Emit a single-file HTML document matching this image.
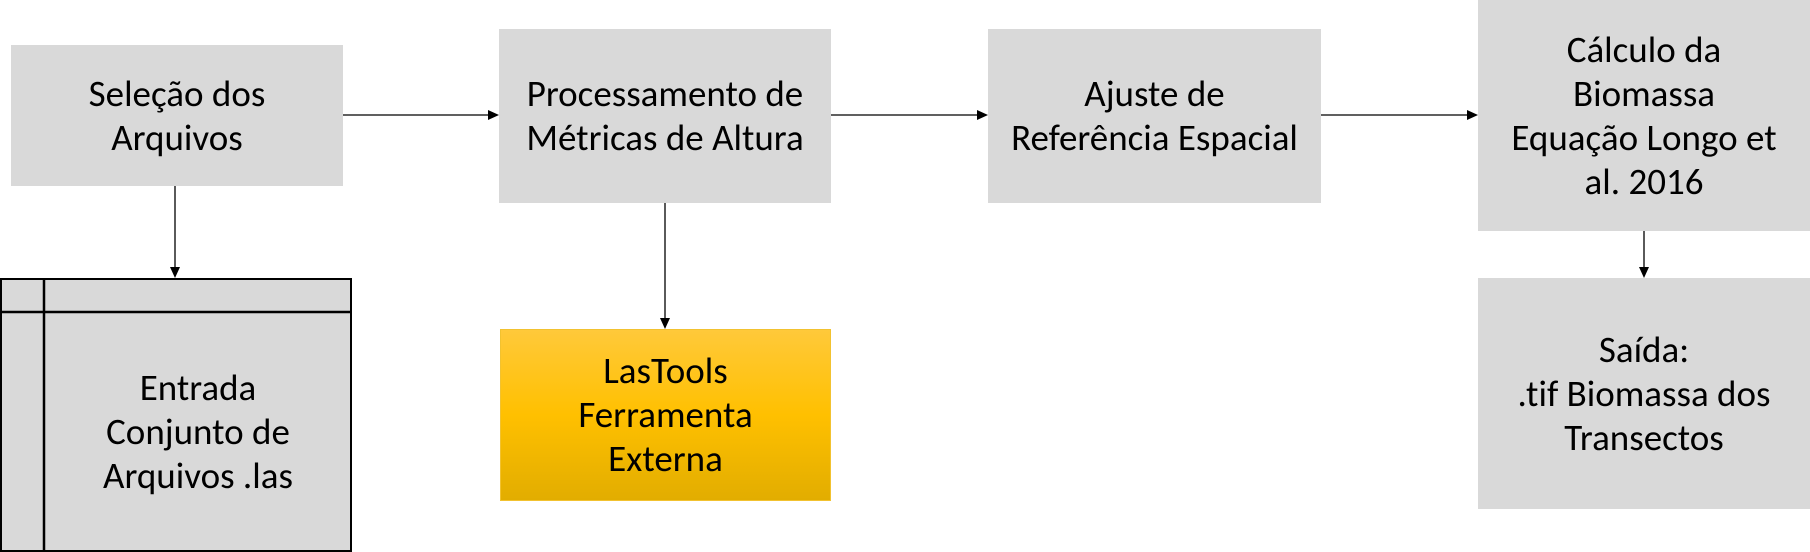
<!DOCTYPE html>
<html><head><meta charset="utf-8"><style>
body{margin:0;width:1810px;height:552px;background:#fff;position:relative;overflow:hidden;font-family:"Carlito","Liberation Sans",sans-serif;font-variant-ligatures:none;}
.b{position:absolute;background:#d9d9d9;display:flex;align-items:center;justify-content:center;text-align:center;font-size:37px;line-height:44px;color:#000;box-sizing:border-box;}
svg{position:absolute;left:0;top:0;}
</style></head><body>
<div class="b" style="left:11px;top:45px;width:332px;height:141px;">Seleção dos<br>Arquivos</div>
<div class="b" style="left:499px;top:29px;width:332px;height:174px;">Processamento de<br>Métricas de Altura</div>
<div class="b" style="left:988px;top:29px;width:333px;height:174px;">Ajuste de<br>Referência Espacial</div>
<div class="b" style="left:1478px;top:0px;width:332px;height:231px;">Cálculo da<br>Biomassa<br>Equação Longo et<br>al. 2016</div>
<div class="b" style="left:1478px;top:278px;width:332px;height:231px;">Saída:<br>.tif Biomassa dos<br>Transectos</div>
<div class="b" style="left:500px;top:329px;width:331px;height:172px;background:linear-gradient(#ffc93a,#ffc000 50%,#e2ad00);border:1.5px solid #f2c230;">LasTools<br>Ferramenta<br>Externa</div>
<div class="b" style="left:0;top:278px;width:352px;height:274px;border:2.5px solid #000;padding-left:44px;padding-top:34px;">Entrada<br>Conjunto de<br>Arquivos .las</div>
<svg width="1810" height="552">
<line x1="44" y1="278" x2="44" y2="552" stroke="#000" stroke-width="2.5"/>
<line x1="0" y1="312" x2="352" y2="312" stroke="#000" stroke-width="2.5"/>
<g stroke="#000" stroke-width="1.3">
<line x1="343" y1="115" x2="490" y2="115"/>
<line x1="831" y1="115" x2="979" y2="115"/>
<line x1="1321" y1="115" x2="1469" y2="115"/>
<line x1="175" y1="186" x2="175" y2="269"/>
<line x1="665" y1="203" x2="665" y2="320"/>
<line x1="1644" y1="231" x2="1644" y2="269"/>
</g>
<g fill="#000">
<polygon points="499,115 488,110 488,120"/>
<polygon points="988,115 977,110 977,120"/>
<polygon points="1478,115 1467,110 1467,120"/>
<polygon points="175,278 170,267 180,267"/>
<polygon points="665,329 660,318 670,318"/>
<polygon points="1644,278 1639,267 1649,267"/>
</g>
</svg>
</body></html>
